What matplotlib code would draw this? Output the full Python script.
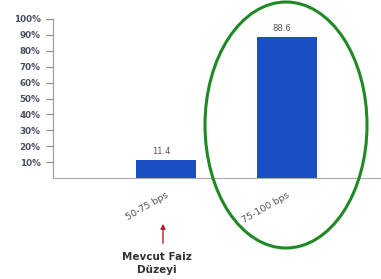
import matplotlib.pyplot as plt
from matplotlib.patches import Ellipse, FancyArrowPatch

categories = ['50-75 bps', '75-100 bps']
values = [11.4, 88.6]
yticks = [10, 20, 30, 40, 50, 60, 70, 80, 90, 100]

W, H = 381, 279
fig = plt.figure(figsize=(W / 100, H / 100), dpi=100)

# axes placed in pixel terms: left edge 53px, baseline 178px, 100% at 19px
ax = fig.add_axes([53 / W, 1 - 178 / H, 1 - 53 / W, (178 - 19) / H])

x = range(len(categories))
ax.bar(x, values, width=0.49, color='#1a4fc4', zorder=2)
for xi, v in zip(x, values):
    ax.text(xi - 0.04, v + 2.5, f'{v:.1f}', ha='center', va='bottom',
            fontsize=6, color='#555555')

ax.set_xlim(-0.934, 1.777)
ax.set_ylim(0, 100)
ax.set_yticks(yticks)
ax.set_yticklabels([f'{t}%' for t in yticks], fontsize=6.3, fontweight='bold',
                   color='#4a4f60')
ax.tick_params(axis='y', length=5, width=0.8, color='#888888', pad=4)

ax.set_xticks(list(x))
ax.set_xticklabels(categories, rotation=30, ha='right', rotation_mode='anchor',
                   fontsize=6.8, color='#555555')
ax.tick_params(axis='x', length=0, pad=9)
for lbl in ax.get_xticklabels():
    lbl.set_x(lbl.get_position()[0])

for s in ['top', 'right']:
    ax.spines[s].set_visible(False)
ax.spines['left'].set_color('#999999')
ax.spines['bottom'].set_color('#aaaaaa')
ax.spines['left'].set_linewidth(0.8)
ax.spines['bottom'].set_linewidth(0.8)

# green ellipse around the second bar
ell = Ellipse((286 / W, 1 - 125 / H), 162 / W, 246 / H, transform=fig.transFigure,
              fill=False, edgecolor='#1f8a24', linewidth=2.2)
fig.patches.append(ell)

# arrow and note under the first bar
fig.patches.append(FancyArrowPatch(
    (163 / W, 1 - 246 / H), (163 / W, 1 - 221 / H), transform=fig.transFigure,
    arrowstyle='-|>', mutation_scale=7, color='#b0202a', linewidth=1.0))
fig.text(157 / W, 1 - 257 / H, 'Mevcut Faiz', ha='center', va='center',
         fontsize=7.5, fontweight='bold', color='#333333')
fig.text(157 / W, 1 - 270 / H, 'Düzeyi', ha='center', va='center',
         fontsize=7.5, fontweight='bold', color='#333333')

fig.savefig('out.png', dpi=100)
